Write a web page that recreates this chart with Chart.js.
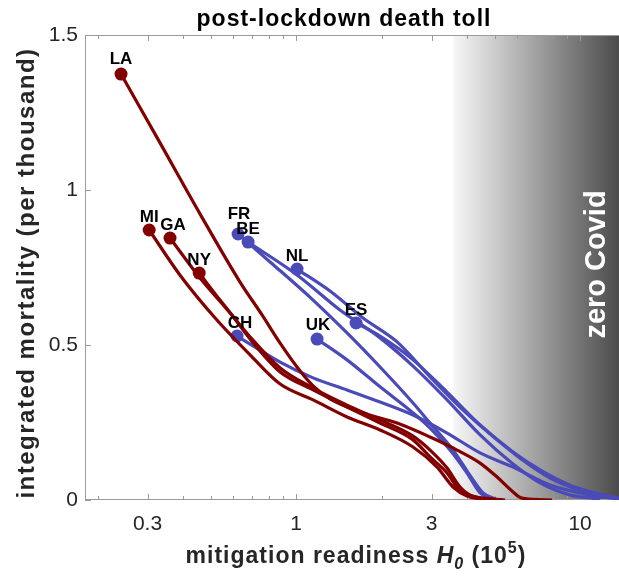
<!DOCTYPE html>
<html>
<head>
<meta charset="utf-8">
<script src="https://cdn.jsdelivr.net/npm/chart.js@4.4.1/dist/chart.umd.min.js"></script>
<style>
  html, body { margin: 0; padding: 0; background: #fff; }
  #wrap { width: 619px; height: 576px; }
</style>
</head>
<body>
<div id="wrap"><canvas id="tollChart" width="619" height="576"></canvas></div>
<script>
// regions: US states (red) and European countries (blue)
const regions = ['LA', 'MI', 'GA', 'NY', 'FR', 'BE', 'NL', 'ES', 'UK', 'CH'];
const regionGroup = ['us', 'us', 'us', 'us', 'eu', 'eu', 'eu', 'eu', 'eu', 'eu'];

// mitigation readiness H0 (10^5) and integrated mortality (per thousand)
const h0_LA = [0.242, 0.332, 0.459, 0.635, 0.759, 0.879, 1.008, 1.148, 1.317, 1.721, 2.268, 2.964, 3.689, 4.446, 5.104, 5.809, 6.249, 7.971];
const mort_LA = [1.374, 1.152, 0.923, 0.703, 0.597, 0.506, 0.429, 0.368, 0.326, 0.281, 0.248, 0.203, 0.161, 0.119, 0.074, 0.026, 0.006, 0];
const h0_MI = [0.304, 0.39, 0.519, 0.689, 0.879, 1.148, 1.512, 1.976, 2.582, 3.137, 3.571, 4.0, 4.822];
const mort_MI = [0.871, 0.726, 0.587, 0.468, 0.374, 0.323, 0.268, 0.226, 0.171, 0.106, 0.042, 0.013, 0];
const h0_GA = [0.36, 0.459, 0.586, 0.717, 0.879, 1.148, 1.512, 1.976, 2.582, 2.964, 3.402, 3.689, 4.0, 5.229];
const mort_GA = [0.845, 0.716, 0.603, 0.5, 0.413, 0.355, 0.3, 0.248, 0.194, 0.139, 0.087, 0.042, 0.019, 0];
const h0_NY = [0.456, 0.54, 0.689, 0.879, 1.148, 1.512, 1.976, 2.582, 2.964, 3.402, 3.78, 4.166, 5.444];
const mort_NY = [0.732, 0.645, 0.526, 0.426, 0.361, 0.306, 0.258, 0.206, 0.161, 0.103, 0.042, 0.013, 0];
const h0_FR = [0.625, 0.81, 1.148, 1.512, 1.976, 2.582, 2.964, 3.571, 4.2, 4.555, 5.02];
const mort_FR = [0.858, 0.768, 0.645, 0.539, 0.429, 0.313, 0.248, 0.161, 0.065, 0.023, 0.003];
const h0_BE = [0.678, 1.008, 1.428, 1.976, 2.582, 3.402, 4.446, 5.809, 7.232, 9.222, 11.76];
const mort_BE = [0.832, 0.726, 0.613, 0.523, 0.432, 0.323, 0.21, 0.116, 0.055, 0.016, 0.003];
const h0_NL = [1.008, 1.317, 1.721, 2.268, 2.964, 3.873, 5.104, 6.149, 7.844, 10.0, 12.75];
const mort_NL = [0.745, 0.674, 0.587, 0.51, 0.397, 0.29, 0.194, 0.135, 0.071, 0.032, 0.01];
const h0_ES = [1.627, 1.976, 2.582, 3.402, 4.446, 5.809, 7.232, 9.222, 11.76, 13.72];
const mort_ES = [0.571, 0.529, 0.452, 0.348, 0.242, 0.155, 0.097, 0.048, 0.019, 0.006];
const h0_UK = [1.186, 1.512, 1.976, 2.582, 2.964, 3.485, 4.0, 4.446, 4.898];
const mort_UK = [0.519, 0.452, 0.365, 0.281, 0.232, 0.161, 0.087, 0.023, 0.003];
const h0_CH = [0.62, 0.879, 1.148, 1.512, 1.976, 2.582, 3.402, 4.446, 5.809, 7.844, 10.84, 13.72];
const mort_CH = [0.529, 0.445, 0.394, 0.355, 0.316, 0.274, 0.216, 0.152, 0.106, 0.048, 0.016, 0.003];

// axes
const xTickLabels = [0.3, 1, 3, 10];
const xMinorTicks = [0.2, 0.4, 0.5, 0.6, 0.7, 0.8, 0.9, 2, 4, 5, 6, 7, 8, 9];
const yTickLabels = [0, 0.5, 1, 1.5];
const zeroCovidFrom = 3.57; // H0 where the shaded band starts

const series = {
    LA: [h0_LA, mort_LA], MI: [h0_MI, mort_MI], GA: [h0_GA, mort_GA], NY: [h0_NY, mort_NY],
    FR: [h0_FR, mort_FR], BE: [h0_BE, mort_BE], NL: [h0_NL, mort_NL], ES: [h0_ES, mort_ES],
    UK: [h0_UK, mort_UK], CH: [h0_CH, mort_CH]
};

const groupColors = { us: '#820000', eu: '#4a4ab9' };
const FONT = 'Arial, "Liberation Sans", Helvetica, sans-serif';

// little tweaks so the labels do not sit on each other
const labelShift = { GA: [3, 0], CH: [3, 0], FR: [1, -7], UK: [1, -1], LA: [0, -2] };

const datasets = regions.map((name, i) => {
    const [xs, ys] = series[name];
    const color = groupColors[regionGroup[i]];
    return {
        label: name,
        data: xs.map((x, k) => ({ x: x, y: ys[k] })),
        showLine: true,
        borderColor: color,
        backgroundColor: color,
        borderWidth: 3.2,
        cubicInterpolationMode: 'monotone',
        pointRadius: ctx => ctx.dataIndex === 0 ? 6.5 : 0,
        pointHoverRadius: ctx => ctx.dataIndex === 0 ? 6.5 : 0,
        pointBorderWidth: 0
    };
});

// shaded "zero Covid" band, box and inward ticks
const backdrop = {
    id: 'backdrop',
    beforeDatasetsDraw(chart) {
        const { ctx, chartArea: a, scales: { x, y } } = chart;
        const x0 = x.getPixelForValue(zeroCovidFrom);
        ctx.save();
        const g = ctx.createLinearGradient(x0, 0, a.right, 0);
        g.addColorStop(0, '#f7f7f7');
        g.addColorStop(1, '#4b4b4b');
        ctx.fillStyle = g;
        ctx.fillRect(x0, a.top, a.right - x0, a.bottom - a.top);

        ctx.translate(a.right - 22, (a.top + a.bottom) / 2 - 3);
        ctx.rotate(-Math.PI / 2);
        ctx.fillStyle = '#ffffff';
        ctx.font = 'bold 29px ' + FONT;
        ctx.textAlign = 'center';
        ctx.textBaseline = 'middle';
        ctx.fillText('zero Covid', 0, 0);
        ctx.restore();

        ctx.save();
        ctx.strokeStyle = '#9a9a9a';
        ctx.lineWidth = 1;
        ctx.beginPath();
        ctx.moveTo(a.left + 0.5, a.top);
        ctx.lineTo(a.left + 0.5, a.bottom);
        ctx.moveTo(a.left, a.bottom - 0.5);
        ctx.lineTo(a.right, a.bottom - 0.5);
        ctx.moveTo(a.left, a.top + 0.5);
        ctx.lineTo(a.right, a.top + 0.5);
        const tick = (v, len) => {
            const px = Math.round(x.getPixelForValue(v)) + 0.5;
            ctx.moveTo(px, a.bottom);
            ctx.lineTo(px, a.bottom - len);
            ctx.moveTo(px, a.top);
            ctx.lineTo(px, a.top + len);
        };
        xTickLabels.forEach(v => tick(v, 6));
        xMinorTicks.forEach(v => tick(v, 4));
        yTickLabels.forEach(v => {
            const py = Math.round(y.getPixelForValue(v)) + 0.5;
            ctx.moveTo(a.left, py);
            ctx.lineTo(a.left + 6, py);
        });
        ctx.stroke();
        ctx.restore();
    },
    afterDatasetsDraw(chart) {
        const { ctx } = chart;
        ctx.save();
        ctx.font = 'bold 17px ' + FONT;
        ctx.fillStyle = '#000';
        ctx.textAlign = 'center';
        ctx.textBaseline = 'alphabetic';
        chart.data.datasets.forEach((ds, i) => {
            const p = chart.getDatasetMeta(i).data[0];
            const [dx, dy] = labelShift[ds.label] || [0, 0];
            ctx.fillText(ds.label, p.x + dx, p.y - 8 + dy);
        });
        ctx.restore();
    },
    afterDraw(chart) {
        const { ctx } = chart;
        ctx.save();
        ctx.fillStyle = '#000';
        ctx.textBaseline = 'alphabetic';
        ctx.textAlign = 'center';
        ctx.font = 'bold 23px ' + FONT;
        ctx.letterSpacing = '1px';
        ctx.fillText('post-lockdown death toll', 344, 26);

        // x title with italic H, subscript 0 and superscript 5
        ctx.fillStyle = '#262626';
        ctx.textAlign = 'left';
        const parts = [
            ['mitigation readiness ', 'bold 23px ', 0],
            ['H', 'italic bold 23px ', 0],
            ['0', 'italic bold 16px ', 6],
            [' (10', 'bold 23px ', 0],
            ['5', 'bold 16px ', -10],
            [')', 'bold 23px ', 0]
        ];
        let w = 0;
        parts.forEach(p => { ctx.font = p[1] + FONT; w += ctx.measureText(p[0]).width; });
        let cx = 356 - w / 2;
        parts.forEach(p => {
            ctx.font = p[1] + FONT;
            ctx.fillText(p[0], cx, 563 + p[2]);
            cx += ctx.measureText(p[0]).width;
        });

        // y title
        ctx.translate(27, 273);
        ctx.rotate(-Math.PI / 2);
        ctx.textAlign = 'center';
        ctx.textBaseline = 'middle';
        ctx.font = 'bold 24px ' + FONT;
        ctx.letterSpacing = '1.5px';
        ctx.fillText('integrated mortality (per thousand)', 0, 0);
        ctx.restore();
    }
};

new Chart(document.getElementById('tollChart'), {
    type: 'scatter',
    data: { datasets: datasets },
    options: {
        responsive: false,
        animation: false,
        layout: { autoPadding: false, padding: { top: 35, right: 0, left: 0, bottom: 0 } },
        plugins: {
            legend: { display: false },
            tooltip: { enabled: false }
        },
        scales: {
            x: {
                type: 'logarithmic',
                min: 0.1807,
                max: 13.71,
                grid: { display: false, drawTicks: false },
                border: { display: false },
                afterBuildTicks: s => { s.ticks = xTickLabels.map(v => ({ value: v })); },
                afterFit: s => { s.height = 76; },
                ticks: {
                    autoSkip: false,
                    maxRotation: 0,
                    padding: 12,
                    color: '#262626',
                    font: { family: FONT, size: 21 },
                    callback: v => String(v)
                }
            },
            y: {
                min: 0,
                max: 1.5,
                grid: { display: false, drawTicks: false },
                border: { display: false },
                afterBuildTicks: s => { s.ticks = yTickLabels.map(v => ({ value: v })); },
                afterFit: s => { s.width = 85; },
                ticks: {
                    padding: 7,
                    color: '#262626',
                    font: { family: FONT, size: 21 },
                    callback: v => String(v)
                }
            }
        }
    },
    plugins: [backdrop]
});
</script>
</body>
</html>
